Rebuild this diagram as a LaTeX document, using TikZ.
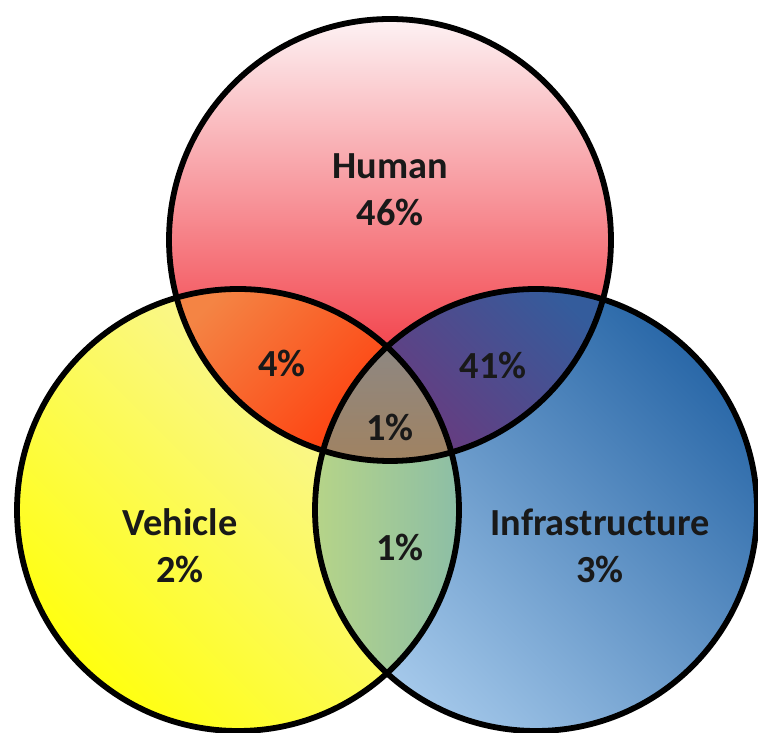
\documentclass[tikz,border=0pt]{standalone}
\usepackage{fontspec}
\setmainfont{Carlito}
\definecolor{humTop}{HTML}{FDF2F4}
\definecolor{humBot}{HTML}{F01A24}
\definecolor{vehTop}{HTML}{F8F4B4}
\definecolor{vehBot}{HTML}{FFFF10}
\definecolor{infTop}{HTML}{2A68A8}
\definecolor{infBot}{HTML}{A4C8EA}
\definecolor{hvTop}{HTML}{F48444}
\definecolor{hvBot}{HTML}{FF3C0C}
\definecolor{hiTop}{HTML}{345C9C}
\definecolor{hiBot}{HTML}{6A3A7E}
\definecolor{viLeft}{HTML}{B6D488}
\definecolor{viRight}{HTML}{8CBEA6}
\definecolor{allTop}{HTML}{8C8886}
\definecolor{allBot}{HTML}{A2825E}
\tikzset{
    %Define style for the set outlines
    ring/.style={
           draw=black,
           line width=3.3pt},
    % Define style for the labels
    lbl/.style={
           font=\bfseries\fontsize{21.8}{26.5}\selectfont,
           text=black!90,
           align=center,
           inner sep=0pt}
}
\begin{document}
\begin{tikzpicture}[x=0.02cm, y=0.02cm]
\useasboundingbox (0,0) rectangle (758,733);

%centres
\coordinate (hc) at (390,493);
\coordinate (vc) at (238,223);
\coordinate (ic) at (536,223);
\def\rad{221}

%sets
\begin{scope}
    \clip (hc) circle (\rad);
    \shade[top color=humTop, bottom color=humBot] (160,300) rectangle (620,714);
\end{scope}
\shade[top color=vehTop, bottom color=vehBot, shading angle=-45] (vc) circle (\rad);
\shade[top color=infTop, bottom color=infBot, shading angle=-45] (ic) circle (\rad);

%overlaps
\begin{scope}
    \clip (hc) circle (\rad);
    \clip (vc) circle (\rad);
    \shade[top color=hvTop, bottom color=hvBot, shading angle=45] (165,270) rectangle (400,445);
\end{scope}
\begin{scope}
    \clip (hc) circle (\rad);
    \clip (ic) circle (\rad);
    \shade[top color=hiTop, bottom color=hiBot, shading angle=-45] (380,270) rectangle (615,445);
\end{scope}
\begin{scope}
    \clip (vc) circle (\rad);
    \clip (ic) circle (\rad);
    \shade[left color=viLeft, right color=viRight] (315,0) rectangle (460,300);
\end{scope}
\begin{scope}
    \clip (hc) circle (\rad);
    \clip (vc) circle (\rad);
    \clip (ic) circle (\rad);
    \shade[top color=allTop, bottom color=allBot] (320,260) rectangle (460,400);
\end{scope}

%outlines
\draw[ring] (hc) circle (\rad);
\draw[ring] (vc) circle (\rad);
\draw[ring] (ic) circle (\rad);

%labels
\node[lbl] (human) at (390,543) {Human\\46\%};
\node[lbl] (vehicle) at (180,187) {Vehicle\\2\%};
\node[lbl] (infra) at (600,187) {Infrastructure\\3\%};
\node[lbl] (hv) at (282,370) {4\%};
\node[lbl] (hi) at (493,368) {41\%};
\node[lbl] (hvi) at (390,306) {1\%};
\node[lbl] (vi) at (400,186) {1\%};

\end{tikzpicture}
\end{document}
